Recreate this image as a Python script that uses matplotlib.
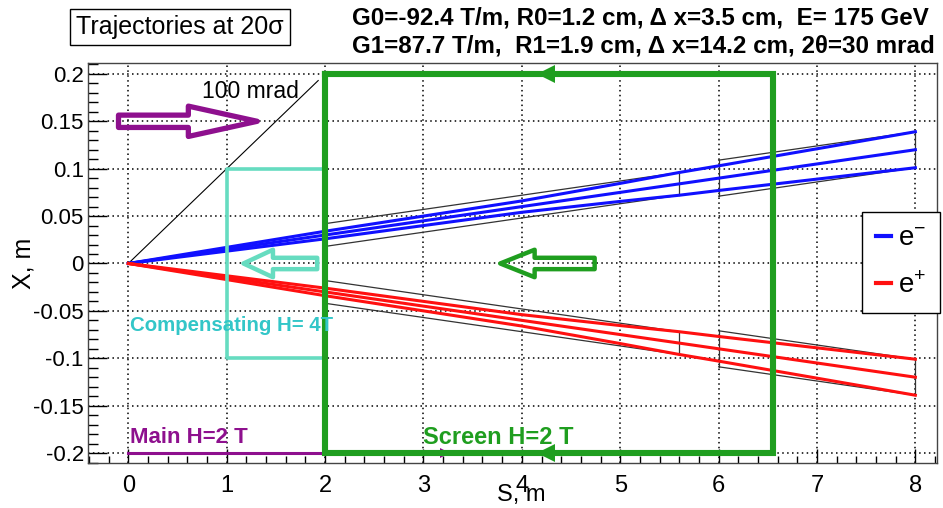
import matplotlib
matplotlib.use("Agg")
import matplotlib.pyplot as plt
from matplotlib.patches import FancyArrow
from matplotlib.ticker import MultipleLocator
from matplotlib import font_manager

names = {f.name for f in font_manager.fontManager.ttflist}
NARROW = 'Liberation Sans Narrow' if 'Liberation Sans Narrow' in names else 'Liberation Sans'
plt.rcParams['font.family'] = ['Liberation Sans', 'DejaVu Sans']
plt.rcParams['mathtext.fontset'] = 'custom'
plt.rcParams['mathtext.rm'] = 'Liberation Sans'

# ---------------- data ----------------
s_pts = [0, 1, 2, 3, 4, 5, 5.6, 6, 7, 8]
blue_upper = [0, 0.017, 0.034, 0.050, 0.066, 0.0845, 0.096, 0.103, 0.121, 0.139]
blue_center = [0, 0.015, 0.030, 0.045, 0.060, 0.075, 0.084, 0.090, 0.105, 0.120]
blue_lower = [0, 0.013, 0.026, 0.040, 0.054, 0.0655, 0.072, 0.077, 0.089, 0.101]
red_upper = [0, -0.013, -0.026, -0.040, -0.054, -0.0655, -0.072, -0.077, -0.089, -0.101]
red_center = [0, -0.015, -0.030, -0.045, -0.060, -0.075, -0.084, -0.090, -0.105, -0.120]
red_lower = [0, -0.017, -0.034, -0.050, -0.066, -0.0845, -0.096, -0.103, -0.121, -0.139]

quad0_s = [2.0, 5.6]
quad0_top = [0.042, 0.096]
quad0_bot = [0.018, 0.072]
quad1_s = [6.0, 8.0]
quad1_top = [0.109, 0.139]
quad1_bot = [0.071, 0.101]

ref_s = [0, 1.93]
ref_x = [0, 0.193]

screen_s = [2.0, 6.55]
screen_x = [-0.2, 0.2]
comp_s = [1.0, 2.0]
comp_x = [-0.1, 0.1]
main_s = [0, 2.0]
main_x = -0.2

header1 = "G0=-92.4 T/m, R0=1.2 cm, \u0394 x=3.5 cm,  E= 175 GeV"
header2 = "G1=87.7 T/m,  R1=1.9 cm, \u0394 x=14.2 cm, 2\u03b8=30 mrad"
title = "Trajectories at 20\u03c3"

# ---------------- figure ----------------
W, H = 943, 508
fig = plt.figure(figsize=(W / 100, H / 100), dpi=100)
ax = fig.add_axes([88 / W, 1 - 463 / H, 849 / W, 400 / H])
ax.set_xlim(-0.41, 8.22)
ax.set_ylim(-0.2105, 0.2115)

ax.xaxis.set_major_locator(MultipleLocator(1))
ax.xaxis.set_minor_locator(MultipleLocator(0.2))
ax.yaxis.set_major_locator(MultipleLocator(0.05))
ax.yaxis.set_minor_locator(MultipleLocator(0.01))
ax.set_yticks([0.2, 0.15, 0.1, 0.05, 0, -0.05, -0.1, -0.15, -0.2])
ax.set_yticklabels(['0.2', '0.15', '0.1', '0.05', '0', '-0.05', '-0.1', '-0.15', '-0.2'])
ax.tick_params(axis='both', which='both', direction='in', labelsize=16, colors='black')
ax.tick_params(axis='x', which='both', labelsize=17)
ax.tick_params(axis='y', which='major', length=14, width=1.0, pad=3)
ax.tick_params(axis='y', which='minor', length=7, width=1.0)
ax.tick_params(axis='x', which='major', length=10, width=1.0, pad=9)
ax.tick_params(axis='x', which='minor', length=5, width=1.0)
ax.grid(True, which='major', color='black', linestyle=(0, (1, 2.2)), linewidth=1.1)
for sp in ax.spines.values():
    sp.set_linewidth(1.0)
    sp.set_color('#444444')

ax.set_xlabel('S, m', fontsize=17)
ax.xaxis.set_label_coords(0.51, -0.052)
ax.set_ylabel('X, m', fontsize=18)
ax.yaxis.set_label_coords(-0.062, 0.5)

# reference 100 mrad line
ax.plot(ref_s, ref_x, color='black', lw=0.8)
ax.text(1.73, 0.181, '100 mrad', fontsize=16.5, ha='right', va='center')

# quad apertures
for qs, qt, qb in [(quad0_s, quad0_top, quad0_bot), (quad1_s, quad1_top, quad1_bot)]:
    for sign in (1, -1):
        t = [sign * v for v in qt]
        b = [sign * v for v in qb]
        ax.plot(qs, t, color='#333333', lw=0.9)
        ax.plot(qs, b, color='#333333', lw=0.9)
        ax.plot([qs[1], qs[1]], [t[1], b[1]], color='#333333', lw=0.9)
        ax.plot([qs[0], qs[0]], [t[0], b[0]], color='#333333', lw=0.9)

# trajectories
for arr in (blue_upper, blue_lower):
    ax.plot(s_pts, arr, color='#1010ff', lw=2.2)
lb, = ax.plot(s_pts, blue_center, color='#1010ff', lw=2.2, label='e$^{-}$')
for arr in (red_upper, red_lower):
    ax.plot(s_pts, arr, color='#ff1010', lw=2.2)
lr, = ax.plot(s_pts, red_center, color='#ff1010', lw=2.2, label='e$^{+}$')

# compensating box
cyan = '#66dcc0'
ax.plot([comp_s[1], comp_s[0], comp_s[0], comp_s[1]],
        [comp_x[1], comp_x[1], comp_x[0], comp_x[0]], color=cyan, lw=2.6)

# main line
purple = '#8e108e'
ax.plot(main_s, [main_x, main_x], color=purple, lw=2.2)
ax.plot([3.22], [main_x], marker='>', color=purple, ms=7, mew=0)

# screen box
green = '#1f9e1f'
ax.plot([screen_s[0], screen_s[1], screen_s[1], screen_s[0], screen_s[0]],
        [screen_x[1], screen_x[1], screen_x[0], screen_x[0], screen_x[1]],
        color=green, lw=4.4, solid_joinstyle='miter', zorder=5)
for yv in screen_x:
    ax.plot([4.25], [yv], marker='<', color=green, ms=13, mew=0, zorder=6)

# hollow arrows
ax.add_patch(FancyArrow(-0.1, 0.15, 1.41, 0, width=0.013, head_width=0.032,
                        head_length=0.7, length_includes_head=True, fill=False,
                        edgecolor=purple, lw=3.8, zorder=4, joinstyle='round'))
ax.add_patch(FancyArrow(1.92, 0.0, -0.75, 0, width=0.012, head_width=0.029,
                        head_length=0.3, length_includes_head=True, fill=False,
                        edgecolor=cyan, lw=3.2, zorder=4, joinstyle='round'))
ax.add_patch(FancyArrow(4.74, 0.0, -0.96, 0, width=0.012, head_width=0.029,
                        head_length=0.35, length_includes_head=True, fill=False,
                        edgecolor=green, lw=3.2, zorder=4, joinstyle='round'))

# labels
ax.text(0.02, -0.065, 'Compensating H= 4T', color='#33c6c8', fontsize=14.7,
        fontweight='bold', ha='left', va='center', zorder=7)
ax.text(0.02, -0.184, 'Main H=2 T', color=purple, fontsize=16,
        fontweight='bold', ha='left', va='center', zorder=7)
ax.text(3.0, -0.184, 'Screen H=2 T', color=green, fontsize=17,
        fontweight='bold', ha='left', va='center', zorder=7)

# legend
leg = fig.legend(handles=[lb, lr], loc='upper left',
                 bbox_to_anchor=(862 / W, 1 - 212 / H), bbox_transform=fig.transFigure,
                 frameon=True, fancybox=False, edgecolor='black', framealpha=1,
                 handlelength=0.55, handletextpad=0.25, labelspacing=0.75,
                 borderpad=0.5, borderaxespad=0, fontsize=20)
leg.get_frame().set_linewidth(1.0)
for h in leg.legend_handles:
    h.set_linewidth(3)

# title box
fig.text(180 / W, 1 - 27 / H, title, fontsize=18, family=[NARROW, 'DejaVu Sans'],
         ha='center', va='center',
         bbox=dict(boxstyle='square,pad=0.25', facecolor='white', edgecolor='black', lw=1.0))

# header
fig.text(352 / W, 1 - 18 / H, header1, fontsize=17.4, family=[NARROW, 'DejaVu Sans'],
         fontweight='bold', ha='left', va='center')
fig.text(352 / W, 1 - 46 / H, header2, fontsize=17.4, family=[NARROW, 'DejaVu Sans'],
         fontweight='bold', ha='left', va='center')

fig.savefig('out.png', dpi=100)
